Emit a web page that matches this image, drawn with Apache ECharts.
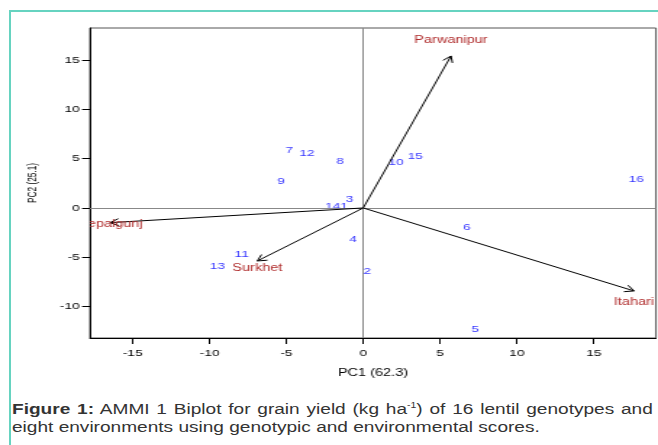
<!DOCTYPE html>
<html>
<head>
<meta charset="utf-8">
<script src="https://cdn.jsdelivr.net/npm/echarts@6/dist/echarts.min.js"></script>
<style>
html, body { margin: 0; padding: 0; width: 658px; height: 445px; overflow: hidden; background: #fff; }
#frame { position: absolute; left: 9px; top: 10px; width: 700px; height: 500px; border: 2px solid #66d3c0; box-sizing: border-box; }
/* the published figure is stretched sideways, so draw narrow and widen */
#chart { position: absolute; left: 0; top: 0; width: 454px; height: 390px; transform: scaleX(1.4493); transform-origin: 0 0; }
#caption { position: absolute; left: 12px; top: 400px; width: 521px; font-family: "Liberation Sans", Arial, sans-serif; font-size: 15.5px; line-height: 18px; color: #333; text-align: justify; transform: scaleX(1.23); transform-origin: 0 0; }
#caption sup { font-size: 0.55em; line-height: 0; vertical-align: 0.7em; }
</style>
</head>
<body>
<div id="frame"></div>
<div id="chart"></div>
<div id="caption"><b>Figure 1:</b> AMMI 1 Biplot for grain yield (kg ha<sup>-1</sup>) of 16 lentil genotypes and eight environments using genotypic and environmental scores.</div>
<script>
var xTicks = [-15, -10, -5, 0, 5, 10, 15];
var yTicks = [-10, -5, 0, 5, 10, 15];

// genotype scores
var genotypes = ['1', '2', '3', '4', '5', '6', '7', '8', '9', '10', '11', '12', '13', '14', '15', '16'];
var genoPC1 = [-1.24, 0.27, -0.89, -0.66, 7.28, 6.75, -4.81, -1.5, -5.35, 2.13, -7.91, -3.67, -9.49, -2.0, 3.39, 17.77];
var genoPC2 = [0.13, -6.46, 0.91, -3.14, -12.26, -2.0, 5.81, 4.76, 2.74, 4.66, -4.69, 5.54, -5.95, 0.13, 5.2, 2.94];

// environment scores (arrow tips)
var envNames = ['Parwanipur', 'Nepalgunj', 'Surkhet', 'Itahari'];
var envPC1 = [5.71, -16.48, -6.89, 17.62];
var envPC2 = [15.4, -1.49, -5.37, -8.41];

var fontName = '"Liberation Sans", Arial, sans-serif';

// label nudges in px from the arrow tip
var labelShift = {
	'Parwanipur': [0, -16],
	'Nepalgunj': [0, 2],
	'Surkhet': [0, 7],
	'Itahari': [0, 11]
};
var headLen = 7;
var headAngle = Math.PI / 6;

function renderArrow(params, api){
	var o = api.coord([0, 0]);
	var p = api.coord([api.value(0), api.value(1)]);
	var a = Math.atan2(p[1] - o[1], p[0] - o[0]);
	var h1 = [p[0] - headLen * Math.cos(a - headAngle), p[1] - headLen * Math.sin(a - headAngle)];
	var h2 = [p[0] - headLen * Math.cos(a + headAngle), p[1] - headLen * Math.sin(a + headAngle)];
	var name = envNames[params.dataIndex];
	var s = labelShift[name];
	return {
		type: 'group',
		children: [
			{ type: 'line', shape: { x1: o[0], y1: o[1], x2: p[0], y2: p[1] }, style: { stroke: '#000', lineWidth: 1 } },
			{ type: 'polyline', shape: { points: [h1, p, h2] }, style: { stroke: '#000', fill: 'none', lineWidth: 1 } },
			{ type: 'text', x: p[0] + s[0], y: p[1] + s[1], style: {
				text: name, fill: '#b02e2e', fontSize: 10, fontFamily: fontName,
				align: 'center', verticalAlign: 'middle'
			} }
		]
	};
}

var myChart = echarts.init(document.getElementById('chart'));
var option = {
	animation: false,
	textStyle: { fontFamily: fontName },
	grid: { left: 62.1, right: 1.4, top: 28, bottom: 52, show: true, borderColor: '#555', borderWidth: 1 },
	xAxis: {
		type: 'value', min: -17.78, max: 19.05,
		splitLine: { show: false },
		axisLine: { onZero: false, lineStyle: { color: '#000' } },
		axisTick: { customValues: xTicks, length: 6, lineStyle: { color: '#000' } },
		axisLabel: { customValues: xTicks, fontSize: 9.5, color: '#000', margin: 10 },
		name: 'PC1 (62.3)', nameLocation: 'middle', nameGap: 30,
		nameTextStyle: { fontSize: 10, color: '#000' }
	},
	yAxis: {
		type: 'value', min: -13.18, max: 18.24,
		splitLine: { show: false },
		axisLine: { onZero: false, lineStyle: { color: '#000' } },
		axisTick: { customValues: yTicks, length: 5.5, lineStyle: { color: '#000' } },
		axisLabel: { customValues: yTicks, fontSize: 9.5, color: '#000', margin: 7 },
		name: 'PC2 (25.1)', nameLocation: 'middle', nameGap: 35, nameRotate: 90,
		nameTextStyle: { fontSize: 8.3, color: '#000' }
	},
	series: [
		{
			type: 'scatter',
			symbolSize: 1,
			itemStyle: { color: 'rgba(0,0,0,0)' },
			label: { show: true, position: 'inside', formatter: '{b}', color: '#0000ff', fontSize: 9.5 },
			data: genoPC1.map(function(x, i){ return { name: genotypes[i], value: [x, genoPC2[i]] }; }),
			markLine: {
				silent: true,
				symbol: ['none', 'none'],
				label: { show: false },
				lineStyle: { color: '#888', type: 'solid', width: 1 },
				data: [{ xAxis: 0 }, { yAxis: 0 }]
			}
		},
		{
			type: 'custom',
			clip: true,
			z: 5,
			renderItem: renderArrow,
			data: envPC1.map(function(x, i){ return [x, envPC2[i]]; })
		}
	]
};
myChart.setOption(option);
</script>
</body>
</html>
